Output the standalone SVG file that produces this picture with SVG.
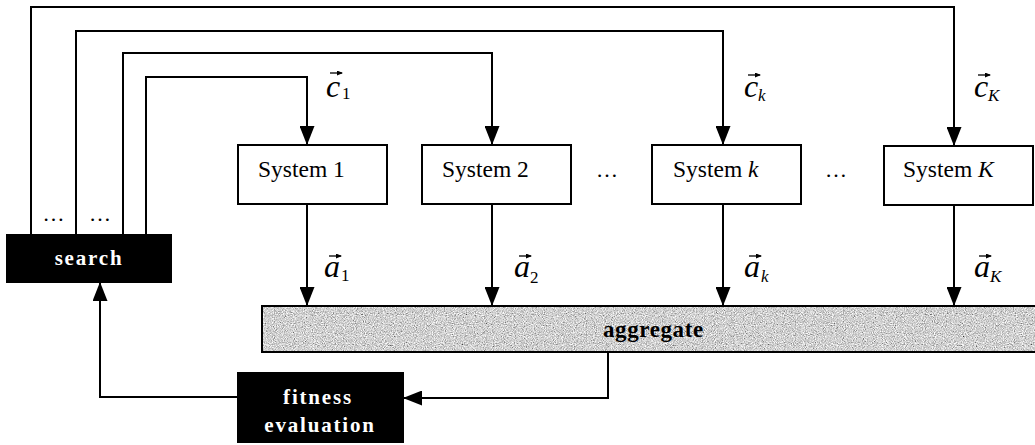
<svg xmlns="http://www.w3.org/2000/svg" width="1035" height="445" viewBox="0 0 1035 445">
  <style>
    .wire { fill: none; stroke: #000; stroke-width: 2; }
    .box { fill: #fff; stroke: #000; stroke-width: 2; }
    .dark { fill: #000; stroke: #000; stroke-width: 2; }
    .sys { font-family: "Liberation Serif", "Times New Roman", serif; font-size: 23.5px; fill: #000; }
    .dots { font-family: "Liberation Serif", "Times New Roman", serif; font-size: 22px; fill: #000; }
    .inv { font-family: "Liberation Serif", "Times New Roman", serif; font-size: 21px; font-weight: bold; fill: #fff; letter-spacing: 1.8px; }
    .agg { font-family: "Liberation Serif", "Times New Roman", serif; font-size: 23px; font-weight: bold; fill: #000; letter-spacing: 0.6px; }
    .var { font-family: "Liberation Serif", "Times New Roman", serif; font-size: 32px; font-style: italic; fill: #000; }
    .sub { font-family: "Liberation Serif", "Times New Roman", serif; font-size: 17px; fill: #000; }
    .subi { font-family: "Liberation Serif", "Times New Roman", serif; font-size: 17px; font-style: italic; fill: #000; }
    .vec { fill: none; stroke: #000; stroke-width: 1.3; marker-end: url(#vhead); }
  </style>
  <defs>
    <marker id="head" markerUnits="userSpaceOnUse" markerWidth="19" markerHeight="15" refX="19" refY="7.5" orient="auto">
      <path d="M0,0 L19,7.5 L0,15 z" fill="#000"/>
    </marker>
    <marker id="vhead" markerUnits="userSpaceOnUse" markerWidth="6" markerHeight="5" refX="5" refY="2.5" orient="auto">
      <path d="M0,0 L6,2.5 L0,5 z" fill="#000"/>
    </marker>
    <!-- speckled grey fill for the aggregate bar -->
    <filter id="grain" x="0" y="0" width="100%" height="100%">
      <feTurbulence type="fractalNoise" baseFrequency="0.9" numOctaves="3" seed="7" result="noise"/>
      <feColorMatrix in="noise" type="matrix" values="1.2 0.5 0 0 -0.22  1.2 0.5 0 0 -0.22  1.2 0.5 0 0 -0.22  0 0 0 0 1" result="gray"/>
      <feComposite in="gray" in2="SourceGraphic" operator="in"/>
    </filter>
  </defs>

  <!-- connectors -->
  <g id="connectors">
    <!-- parameter lines from search to each system -->
    <path class="wire" d="M31,235 V7 H954 V146" marker-end="url(#head)"/>
    <path class="wire" d="M76,235 V31 H723 V145" marker-end="url(#head)"/>
    <path class="wire" d="M123,235 V53 H492 V145" marker-end="url(#head)"/>
    <path class="wire" d="M146,235 V77 H307 V145" marker-end="url(#head)"/>
    <!-- outputs into aggregate -->
    <path class="wire" d="M307,204 V306" marker-end="url(#head)"/>
    <path class="wire" d="M492,204 V306" marker-end="url(#head)"/>
    <path class="wire" d="M723,204 V306" marker-end="url(#head)"/>
    <path class="wire" d="M954,205 V306" marker-end="url(#head)"/>
    <!-- aggregate to fitness evaluation -->
    <path class="wire" d="M608,352 V398 H403" marker-end="url(#head)"/>
    <!-- fitness evaluation back to search -->
    <path class="wire" d="M238,397 H100 V282" marker-end="url(#head)"/>

    <!-- vector labels -->
    <g id="label-c1">
      <text class="var" x="326" y="97">c</text><text class="sub" x="342" y="99">1</text>
      <path class="vec" d="M330,73 H342"/>
    </g>
    <g id="label-ck">
      <text class="var" x="744" y="97">c</text><text class="subi" x="758" y="101">k</text>
      <path class="vec" d="M748,75 H760"/>
    </g>
    <g id="label-cK">
      <text class="var" x="974" y="97">c</text><text class="subi" x="988" y="101">K</text>
      <path class="vec" d="M978,75 H990"/>
    </g>
    <g id="label-a1">
      <text class="var" x="324" y="277">a</text><text class="sub" x="341" y="281">1</text>
      <path class="vec" d="M329,256 H341"/>
    </g>
    <g id="label-a2">
      <text class="var" x="514" y="277">a</text><text class="sub" x="530" y="283">2</text>
      <path class="vec" d="M519,256 H531"/>
    </g>
    <g id="label-ak">
      <text class="var" x="744" y="277">a</text><text class="subi" x="761" y="282">k</text>
      <path class="vec" d="M749,256 H761"/>
    </g>
    <g id="label-aK">
      <text class="var" x="974" y="277">a</text><text class="subi" x="990" y="282">K</text>
      <path class="vec" d="M979,256 H991"/>
    </g>
  </g>

  <!-- systems -->
  <g id="system-1">
    <rect class="box" x="238" y="145" width="149" height="59"/>
    <text class="sys" x="258" y="177">System 1</text>
  </g>
  <g id="system-2">
    <rect class="box" x="422" y="145" width="149" height="59"/>
    <text class="sys" x="442" y="177">System 2</text>
  </g>
  <g id="system-k">
    <rect class="box" x="652" y="145" width="149" height="59"/>
    <text class="sys" x="673" y="177">System <tspan font-style="italic">k</tspan></text>
  </g>
  <g id="system-K">
    <rect class="box" x="884" y="146" width="149" height="59"/>
    <text class="sys" x="903" y="177">System <tspan font-style="italic">K</tspan></text>
  </g>

  <!-- ellipses between systems and between search lines -->
  <g id="ellipses">
    <text class="dots" x="607" y="177" text-anchor="middle">…</text>
    <text class="dots" x="836" y="177" text-anchor="middle">…</text>
    <text class="dots" x="53.5" y="221" text-anchor="middle">…</text>
    <text class="dots" x="100" y="221" text-anchor="middle">…</text>
  </g>

  <!-- search -->
  <g id="search">
    <rect class="dark" x="7" y="235" width="164" height="47"/>
    <text class="inv" x="89" y="265" text-anchor="middle">search</text>
  </g>

  <!-- aggregate -->
  <g id="aggregate">
    <rect x="262" y="306" width="780" height="46" fill="#aaa" filter="url(#grain)"/>
    <rect x="262" y="306" width="780" height="46" fill="none" stroke="#000" stroke-width="2"/>
    <text class="agg" x="603" y="337">aggregate</text>
  </g>

  <!-- fitness evaluation -->
  <g id="fitness">
    <rect class="dark" x="238" y="373" width="165" height="69"/>
    <text class="inv" x="318" y="404" text-anchor="middle">fitness</text>
    <text class="inv" x="320" y="432" text-anchor="middle">evaluation</text>
  </g>
</svg>
